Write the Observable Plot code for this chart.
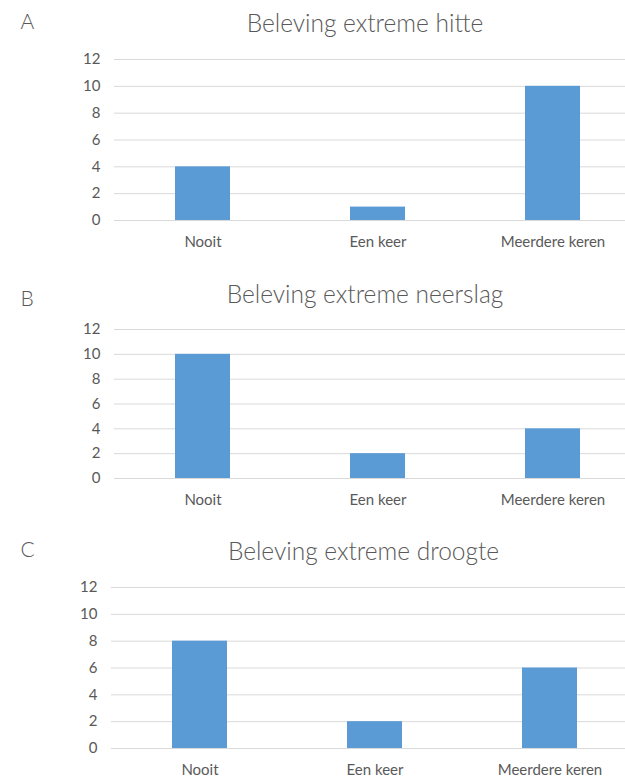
<!DOCTYPE html>
<html>
<head>
<meta charset="utf-8">
<script src="https://cdn.jsdelivr.net/npm/d3@7"></script>
<script src="https://cdn.jsdelivr.net/npm/@observablehq/plot@0.6"></script>
<style>
  html, body { margin: 0; padding: 0; background: #fff; }
  #wrap { position: relative; width: 625px; height: 777px; overflow: hidden; background: #fff; }
  .panel { position: absolute; left: 0; }
</style>
</head>
<body>
<div id="wrap"></div>
<script>
const categories = ["Nooit", "Een keer", "Meerdere keren"];
const yTicks = [0, 2, 4, 6, 8, 10, 12];
const panelLetters = ["A", "B", "C"];
const panelTitles = ["Beleving extreme hitte", "Beleving extreme neerslag", "Beleving extreme droogte"];
const hitte = [4, 1, 10];
const neerslag = [10, 2, 4];
const droogte = [8, 2, 6];
const seriesValues = [hitte, neerslag, droogte];

// layout per panel (positions only)
const layout = [
  {top: 0,   height: 260, mt: 59, mb: 40, ml: 114, titleDy: -28, letterDy: -31},
  {top: 260, height: 260, mt: 69, mb: 42, ml: 114, titleDy: -27, letterDy: -24},
  {top: 520, height: 257, mt: 67, mb: 29, ml: 111, titleDy: -28, letterDy: -31}
];

const textColor = "#595959";
const wrap = document.getElementById("wrap");

seriesValues.forEach((vals, i) => {
  const L = layout[i];
  const data = categories.map((c, j) => ({category: c, value: vals[j]}));
  const chart = Plot.plot({
    width: 625,
    height: L.height,
    marginTop: L.mt,
    marginBottom: L.mb,
    marginLeft: L.ml,
    marginRight: 0,
    style: {fontFamily: "Lato, sans-serif", fontSize: "15px", color: textColor, background: "#fff"},
    x: {domain: categories, range: [L.ml, L.ml + 527], paddingInner: 0.687, paddingOuter: 0.3435, label: null},
    y: {domain: [0, 12], label: null},
    marks: [
      Plot.ruleY(yTicks, {stroke: "#d9d9d9", strokeWidth: 1}),
      Plot.barY(data, {x: "category", y: "value", fill: "#5b9bd5"}),
      Plot.axisY({ticks: yTicks, tickSize: 0, tickPadding: 14, label: null, fontSize: 15}),
      Plot.axisX({tickSize: 0, tickPadding: 16, label: null, fontSize: 15}),
      Plot.text([panelTitles[i]], {
        text: d => d, frameAnchor: "top", lineAnchor: "bottom",
        dx: -5, dy: L.titleDy, fontSize: 24.5, fill: textColor,
        fontWeight: 300
      }),
      Plot.text([panelLetters[i]], {
        text: d => d, frameAnchor: "top-left", lineAnchor: "bottom", textAnchor: "start",
        dx: 20 - L.ml, dy: L.letterDy, fontSize: 21, fill: textColor, fontWeight: 300
      })
    ]
  });
  const div = document.createElement("div");
  div.className = "panel";
  div.style.top = L.top + "px";
  div.appendChild(chart);
  wrap.appendChild(div);
});
</script>
</body>
</html>
